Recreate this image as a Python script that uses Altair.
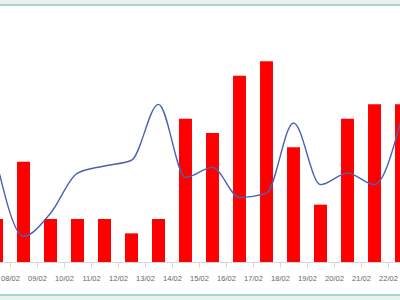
import altair as alt
import pandas as pd

categories = ["07/02", "08/02", "09/02", "10/02", "11/02", "12/02", "13/02", "14/02",
              "15/02", "16/02", "17/02", "18/02", "19/02", "20/02", "21/02", "22/02"]
bar_values = [3, 7, 3, 3, 3, 2, 3, 10, 9, 13, 14, 8, 4, 10, 11, 11]
line_values = [7.0, 1.8, 3.4, 6.2, 6.7, 7.1, 11.0, 5.9, 6.6, 4.5, 4.8, 9.7, 5.4, 6.2, 5.4, 10.0]
grid_values = [0, 1.5, 3, 4.5, 6, 7.5, 9, 10.5, 12, 13.5, 15]

df = pd.DataFrame({"date": categories, "bar": bar_values, "line": line_values})

xscale = alt.Scale(domain=categories, range=[-17, 415], paddingInner=0, paddingOuter=0)
yscale = alt.Scale(domain=[0, 15], nice=False)

xaxis = alt.Axis(tickBand="extent", labelOffset=-13.5, title=None, labelAngle=0,
                 labelOverlap=False, labelBound=False,
                 domainColor="#d6d6d6", tickColor="#d6d6d6", tickSize=5,
                 labelFont="Liberation Sans", labelFontSize=7.5, labelColor="#666666",
                 labelPadding=7, grid=False)
yaxis = alt.Axis(values=grid_values, labels=False, ticks=False, domain=False, title=None,
                 grid=True, gridColor="#e9e9e9", gridWidth=1)

frame_df = pd.DataFrame({"k": [0]})
top_gray = alt.Chart(frame_df).mark_rect(color="#eef0f0").encode(
    x=alt.value(0), x2=alt.value(400), y=alt.value(-47), y2=alt.value(-42))
bottom_gray = alt.Chart(frame_df).mark_rect(color="#eef0f0").encode(
    x=alt.value(0), x2=alt.value(400), y=alt.value(248), y2=alt.value(253))
top_line = alt.Chart(frame_df).mark_rule(color="#86cfb8", strokeWidth=1.5).encode(
    x=alt.value(0), x2=alt.value(400), y=alt.value(-42))
bottom_line = alt.Chart(frame_df).mark_rule(color="#86cfb8", strokeWidth=1.5).encode(
    x=alt.value(0), x2=alt.value(400), y=alt.value(248))

bars = alt.Chart(df).mark_bar(color="#ff0000", width=alt.RelativeBandSize(0.48)).encode(
    x=alt.X("date:N", sort=categories, scale=xscale, axis=xaxis),
    y=alt.Y("bar:Q", scale=yscale, axis=yaxis),
)
line = alt.Chart(df).mark_line(color="#4a62b5", strokeWidth=1.4, interpolate="monotone").encode(
    x=alt.X("date:N", sort=categories, scale=xscale),
    y=alt.Y("line:Q", scale=yscale, axis=None),
)

chart = alt.layer(top_gray, bottom_gray, top_line, bottom_line, bars, line).properties(
    width=400, height=215,
    padding={"left": 0, "right": 0, "top": 47, "bottom": 38},
    autosize=alt.AutoSizeParams(type="none"),
    background="white",
).configure_view(stroke="transparent")

chart.save("out.html", embed_options={"renderer": "svg", "actions": False})
